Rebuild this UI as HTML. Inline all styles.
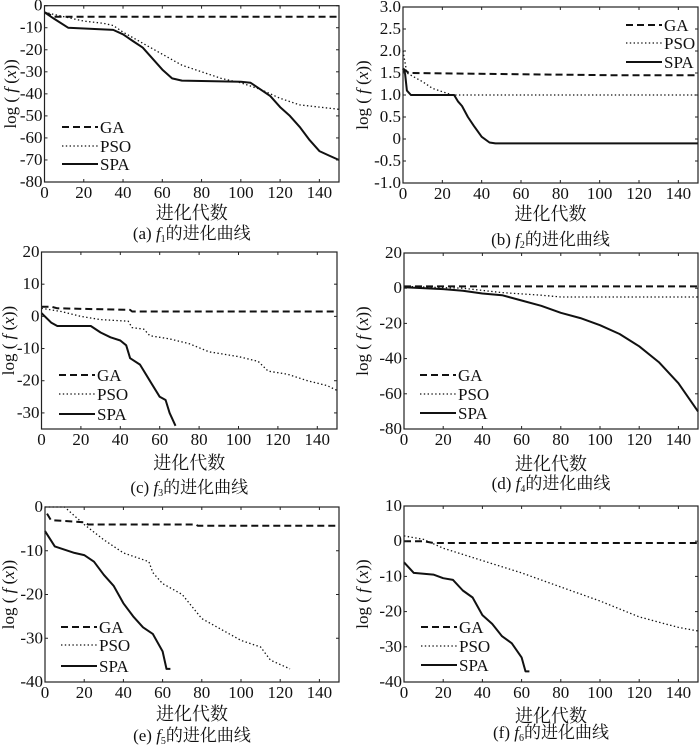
<!DOCTYPE html>
<html><head><meta charset="utf-8">
<style>
html,body{margin:0;padding:0;background:#fff;}
svg{display:block;font-family:"Liberation Serif","Noto Serif CJK SC",serif;}
</style></head>
<body>
<svg id="fig" width="700" height="745" viewBox="0 0 700 745" xmlns="http://www.w3.org/2000/svg"></svg>
<script>
// ---- data (generation, log f(x)) ----
const xTicks = [0,20,40,60,80,100,120,140];
// (a)
const aGAx=[0,5,150], aGAy=[-3,-5,-5];
const aPSOx=[0,10,20,30,35,40,50,60,70,80,90,100,110,120,130,140,150];
const aPSOy=[-3,-5,-7,-8,-9,-12,-17,-22,-27,-30,-33,-35,-38,-42,-45,-46,-47];
const aSPAx=[0,5,12,35,40,45,50,55,60,65,70,100,105,110,115,120,125,130,135,140,145,150];
const aSPAy=[-3,-6,-10,-11,-13,-16,-19,-24,-29,-33,-34,-34.5,-35,-38,-41,-46,-50,-55,-61,-66,-68,-70];
const aTicks=[-80,-70,-60,-50,-40,-30,-20,-10,0];
// (b)
const bGAx=[0,3,105,150], bGAy=[1.6,1.5,1.45,1.45];
const bPSOx=[0,2,10,15,25,150], bPSOy=[2.0,1.5,1.3,1.15,1.0,1.0];
const bSPAx=[0,1,2,4,26,28,30,33,36,40,44,47,150];
const bSPAy=[1.6,1.5,1.1,1.0,1.0,0.85,0.75,0.5,0.3,0.05,-0.08,-0.1,-0.1];
const bTicks=[-1.0,-0.5,0,0.5,1.0,1.5,2.0,2.5,3.0];
const bTickLabels=["-1.0","-0.5","0","0.5","1.0","1.5","2.0","2.5","3.0"];
// (c)
const cGAx=[0,5,8,45,46,150], cGAy=[3,3,2.5,2,1.5,1.5];
const cPSOx=[0,10,20,30,44,46,52,55,65,75,85,100,110,115,125,135,145,150];
const cPSOy=[2.5,1.5,0,-1,-1.5,-3.5,-4,-6,-7,-8.5,-11,-12.5,-14,-17,-18,-20,-21.5,-23];
const cSPAx=[0,5,8,25,30,35,40,43,45,50,55,60,63,65,68];
const cSPAy=[1,-2,-3,-3,-5,-6.5,-7.5,-9,-13,-15,-20,-25,-26,-30,-34];
const cTicks=[-30,-20,-10,0,10,20];
// (d)
const dGAx=[0,150], dGAy=[1,1];
const dPSOx=[0,30,50,70,80,150], dPSOy=[1,0,-2.5,-4,-5,-5];
const dSPAx=[0,20,30,40,50,60,70,80,90,100,110,120,130,140,150];
const dSPAy=[0.5,-0.5,-1.5,-3,-4,-7,-10,-14,-17,-21,-26,-33,-42,-54,-70];
const dTicks=[-80,-60,-40,-20,0,20];
// (e)
const eGAx=[1,3,20,22,77,78,150], eGAy=[-1.5,-3,-3.5,-4,-4,-4.3,-4.3];
const ePSOx=[0,10,15,20,30,40,53,55,60,70,80,90,100,110,115,125];
const ePSOy=[0,0,-2,-4,-7.5,-10.5,-12.5,-15,-17.5,-20,-25.5,-28,-30.5,-32,-35,-37];
const eSPAx=[0,5,15,20,25,30,35,40,45,50,55,60,62,64];
const eSPAy=[-5.5,-9,-10.5,-11,-12.5,-15.5,-18,-22,-25,-27.5,-29,-33,-37,-37];
const eTicks=[-40,-30,-20,-10,0];
// (f)
const fGAx=[0,10,15,150], fGAy=[0,0,-0.5,-0.5];
const fPSOx=[0,10,20,40,60,80,100,120,140,150];
const fPSOy=[1.5,0.5,-2,-5.5,-9,-13,-17,-21.5,-24.5,-25.5];
const fSPAx=[0,5,15,20,25,30,35,40,45,50,55,60,62,64];
const fSPAy=[-6,-9,-9.5,-10.5,-11,-14,-16,-21,-23.5,-27,-29,-33,-37,-37];
const fTicks=[-40,-30,-20,-10,0,10];

const NS="http://www.w3.org/2000/svg";
const svg=document.getElementById('fig');
function mk(tag,attrs,parent){const e=document.createElementNS(NS,tag);for(const k in attrs)e.setAttribute(k,attrs[k]);(parent||svg).appendChild(e);return e;}

const panels=[
 {id:'a',x0:44.5,x1:339,yT:5.7,yB:182,yMin:-80,yMax:0,ticks:aTicks,labels:null,ga:[aGAx,aGAy],pso:[aPSOx,aPSOy],spa:[aSPAx,aSPAy],leg:{x:62,y:[133,152,170]},ylx:10,xl:219,cap:239,capf:'1'},
 {id:'b',x0:403,x1:698,yT:7,yB:183,yMin:-1,yMax:3,ticks:bTicks,labels:bTickLabels,ga:[bGAx,bGAy],pso:[bPSOx,bPSOy],spa:[bSPAx,bSPAy],leg:{x:626,y:[31,49,68]},ylx:362,xl:220,cap:245,capf:'2'},
 {id:'c',x0:41.5,x1:337,yT:252,yB:429,yMin:-35,yMax:20,ticks:cTicks,labels:null,ga:[cGAx,cGAy],pso:[cPSOx,cPSOy],spa:[cSPAx,cSPAy],leg:{x:59,y:[381,400,420]},ylx:8,xl:469,cap:493,capf:'3'},
 {id:'d',x0:404,x1:698,yT:253,yB:429,yMin:-80,yMax:20,ticks:dTicks,labels:null,ga:[dGAx,dGAy],pso:[dPSOx,dPSOy],spa:[dSPAx,dSPAy],leg:{x:420,y:[381,400,419]},ylx:362,xl:470,cap:489,capf:'4'},
 {id:'e',x0:45,x1:339,yT:507,yB:682,yMin:-40,yMax:0,ticks:eTicks,labels:null,ga:[eGAx,eGAy],pso:[ePSOx,ePSOy],spa:[eSPAx,eSPAy],leg:{x:61,y:[633,651,672]},ylx:8,xl:720,cap:741,capf:'5'},
 {id:'f',x0:404,x1:698,yT:506,yB:682,yMin:-40,yMax:10,ticks:fTicks,labels:null,ga:[fGAx,fGAy],pso:[fPSOx,fPSOy],spa:[fSPAx,fSPAy],leg:{x:421,y:[633,652,671]},ylx:362,xl:722,cap:738,capf:'6'}
];
const styles={ga:{w:2,d:'7,4'},pso:{w:1.3,d:'1.4,2.4'},spa:{w:2,d:''}};
const names={ga:'GA',pso:'PSO',spa:'SPA'};

panels.forEach(p=>{
  const g=mk('g',{});
  
  
  const sx=v=>p.x0+(v/150)*(p.x1-p.x0);
  const sy=v=>p.yB-(v-p.yMin)/(p.yMax-p.yMin)*(p.yB-p.yT);
  ['ga','pso','spa'].forEach(k=>{
    const [xs,ys]=p[k];
    const pts=xs.map((x,i)=>sx(x).toFixed(1)+','+sy(ys[i]).toFixed(1)).join(' ');
    const l=mk('polyline',{points:pts,fill:'none',stroke:'#111','stroke-width':styles[k].w,'stroke-dasharray':styles[k].d,'stroke-linejoin':'round'},g);
    
    
  });
  const fr=mk('rect',{x:p.x0,y:p.yT,width:p.x1-p.x0,height:p.yB-p.yT,fill:'none',stroke:'#222','stroke-width':1.2},g);
  
  
  xTicks.forEach(t=>{
    const x=sx(t);
    mk('line',{x1:x,y1:p.yB,x2:x,y2:p.yB-3,stroke:'#222'},g);
    mk('line',{x1:x,y1:p.yT,x2:x,y2:p.yT+3,stroke:'#222'},g);
    const tx=mk('text',{x:x,y:p.yB+16,'font-size':17,'text-anchor':'middle',fill:'#111'},g);
    tx.textContent=t;
    
    
  });
  p.ticks.forEach((t,i)=>{
    const y=sy(t);
    mk('line',{x1:p.x0,y1:y,x2:p.x0+3,y2:y,stroke:'#222'},g);
    mk('line',{x1:p.x1,y1:y,x2:p.x1-3,y2:y,stroke:'#222'},g);
    const ty=mk('text',{x:p.x0-2,y:y+5,'font-size':17,'text-anchor':'end',fill:'#111'},g);
    ty.textContent=p.labels?p.labels[i]:t;
    
    
  });
  const cy=(p.yT+p.yB)/2;
  const yl=mk('text',{x:0,y:0,'font-size':17,'text-anchor':'middle',fill:'#111',transform:`translate(${p.ylx+6},${cy}) rotate(-90)`},g);
  yl.innerHTML='log ( <tspan font-style="italic">f</tspan> (<tspan font-style="italic">x</tspan>))';
  
  
  const cx=(p.x0+p.x1)/2;
  const xl=mk('text',{x:cx,y:p.xl,'font-size':18,'text-anchor':'middle',fill:'#111'},g);
  xl.textContent='进化代数';
  
  
  const cp=mk('text',{x:cx,y:p.cap,'font-size':17,'text-anchor':'middle',fill:'#111'},g);
  cp.innerHTML='('+p.id+') <tspan font-style="italic">f</tspan><tspan font-size="10" dy="3">'+p.capf+'</tspan><tspan dy="-3">的进化曲线</tspan>';
  
  
  ['ga','pso','spa'].forEach((k,i)=>{
    const y=p.leg.y[i];
    const le=mk('g',{},g);
    
    
    mk('line',{x1:p.leg.x,y1:y-6,x2:p.leg.x+36,y2:y-6,stroke:'#111','stroke-width':styles[k].w,'stroke-dasharray':styles[k].d},le);
    const t=mk('text',{x:p.leg.x+38,y:y,'font-size':17,fill:'#111'},le);
    t.textContent=names[k];
  });
});
</script>
</body></html>
